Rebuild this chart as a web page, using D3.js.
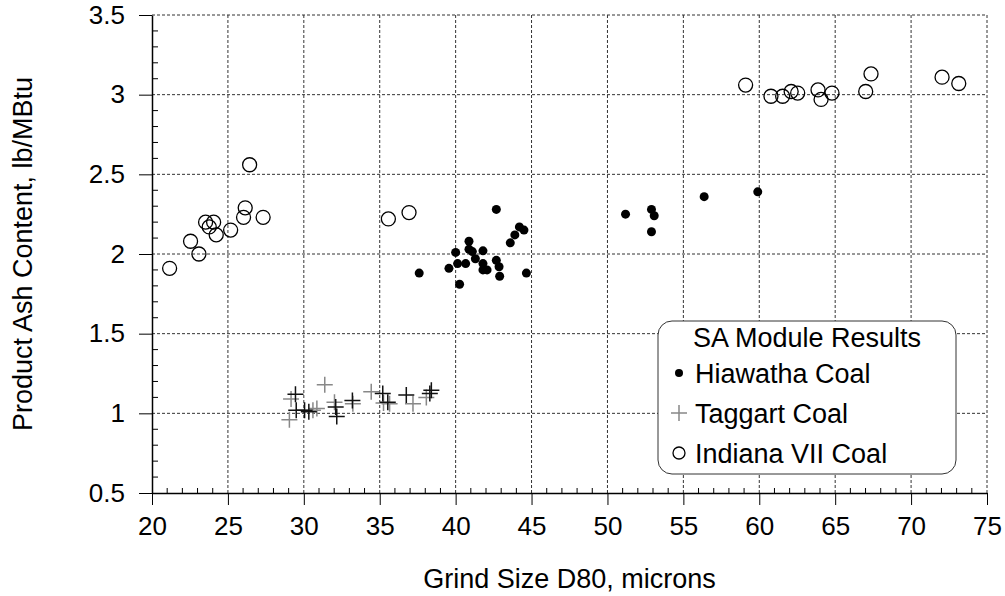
<!DOCTYPE html>
<html>
<head>
<meta charset="utf-8">
<script src="https://cdn.jsdelivr.net/npm/d3@7"></script>
<style>
  body { margin: 0; background: #fff; }
  text { font-family: "Liberation Sans", Arial, sans-serif; fill: #000; }
</style>
</head>
<body>
<div id="chart"></div>
<script>
// データ
const xTicks = [20, 25, 30, 35, 40, 45, 50, 55, 60, 65, 70, 75];
const yTicks = [0.5, 1, 1.5, 2, 2.5, 3, 3.5];

const hiawatha = [
  [37.6, 1.88], [40.26, 1.81], [39.56, 1.91], [40.0, 2.01], [40.13, 1.94],
  [40.66, 1.94], [40.88, 2.08], [40.88, 2.03], [41.1, 2.015], [41.3, 1.97],
  [41.8, 2.02], [41.8, 1.94], [41.8, 1.90], [42.07, 1.90], [42.68, 1.96],
  [42.86, 1.92], [42.9, 1.86], [42.68, 2.28], [43.6, 2.07], [43.9, 2.12],
  [44.2, 2.17], [44.5, 2.15], [44.66, 1.88], [51.19, 2.25], [52.9, 2.28],
  [53.08, 2.24], [52.9, 2.14], [56.37, 2.36], [59.9, 2.39]
];

const taggartBlack = [
  [29.45, 1.12], [29.5, 1.02], [30.05, 1.02], [30.33, 1.01], [32.1, 1.04],
  [32.17, 0.98], [33.2, 1.08], [35.2, 1.125], [35.53, 1.07], [36.75, 1.115],
  [38.3, 1.125], [38.4, 1.145]
];
const taggartGray = [
  [29.05, 0.96], [29.16, 1.09], [30.6, 1.02], [30.86, 1.03], [31.38, 1.18],
  [32.02, 1.07], [33.23, 1.06], [34.44, 1.135], [35.25, 1.065], [35.65, 1.06],
  [37.19, 1.06], [38.07, 1.10]
];

const indiana = [
  [21.16, 1.91], [22.54, 2.08], [23.09, 2.0], [23.53, 2.20], [23.77, 2.17],
  [24.06, 2.20], [24.23, 2.12], [25.18, 2.15], [26.03, 2.23], [26.14, 2.29],
  [26.43, 2.56], [27.32, 2.23], [35.57, 2.22], [36.93, 2.26],
  [59.1, 3.06], [60.77, 2.99], [61.54, 2.99], [62.1, 3.02], [62.53, 3.01],
  [63.87, 3.03], [64.07, 2.97], [64.79, 3.01], [67.01, 3.02], [67.36, 3.13],
  [72.04, 3.11], [73.14, 3.07]
];

const legendTitle = "SA Module Results";
const legendLabels = ["Hiawatha Coal", "Taggart Coal", "Indiana VII Coal"];

// サイズ設定
const width = 1005, height = 596;
const margin = {top: 15, right: 18, bottom: 103, left: 152};
const innerW = width - margin.left - margin.right;
const innerH = height - margin.top - margin.bottom;
const tickFont = 26;
const titleFont = 27;

const svg = d3.select("#chart").append("svg")
  .attr("width", width)
  .attr("height", height);

const g = svg.append("g")
  .attr("transform", `translate(${margin.left},${margin.top})`);

const x = d3.scaleLinear().domain([20, 75]).range([0, innerW]);
const y = d3.scaleLinear().domain([0.5, 3.5]).range([innerH, 0]);

// グリッド線
const grid = g.append("g").attr("class", "grid")
  .style("stroke", "#333").style("stroke-width", 1).style("stroke-dasharray", "3,2");
grid.selectAll(".gx").data(xTicks.slice(1)).enter().append("line")
  .attr("x1", d => x(d)).attr("x2", d => x(d))
  .attr("y1", 0).attr("y2", innerH);
grid.selectAll(".gy").data(yTicks.slice(1)).enter().append("line")
  .attr("x1", 0).attr("x2", innerW)
  .attr("y1", d => y(d)).attr("y2", d => y(d));

// 副目盛り（内向き）
const minorX = d3.range(21, 75, 1).filter(d => d % 5 !== 0);
const minorY = d3.range(6, 35, 1).map(d => d / 10).filter(d => Math.round(d * 10) % 5 !== 0);

g.append("g").selectAll("line").data(minorX).enter().append("line")
  .attr("x1", d => x(d)).attr("x2", d => x(d))
  .attr("y1", innerH).attr("y2", innerH - 5)
  .style("stroke", "#000").style("stroke-width", 1);
g.append("g").selectAll("line").data(minorY).enter().append("line")
  .attr("x1", 0).attr("x2", 6)
  .attr("y1", d => y(d)).attr("y2", d => y(d))
  .style("stroke", "#000").style("stroke-width", 1);

// 軸
const xAxis = g.append("g")
  .attr("transform", `translate(0,${innerH})`)
  .call(d3.axisBottom(x).tickValues(xTicks).tickSize(12).tickSizeOuter(0).tickPadding(12));
const yAxis = g.append("g")
  .call(d3.axisLeft(y).tickValues(yTicks).tickFormat(d3.format("~g")).tickSize(13).tickSizeOuter(0).tickPadding(14));

[xAxis, yAxis].forEach(a => {
  a.select(".domain").style("stroke", "#000").style("stroke-width", 1.5);
  a.selectAll(".tick line").style("stroke", "#000").style("stroke-width", 1);
  a.selectAll("text")
    .style("font-size", tickFont + "px")
    .style("font-family", "'Liberation Sans', Arial, sans-serif")
    .attr("fill", "#000");
});

// 軸タイトル
svg.append("text")
  .attr("x", margin.left + innerW / 2)
  .attr("y", 588)
  .attr("text-anchor", "middle")
  .style("font-size", titleFont + "px")
  .text("Grind Size D80, microns");

svg.append("text")
  .attr("transform", `translate(32,${margin.top + innerH / 2}) rotate(-90)`)
  .attr("text-anchor", "middle")
  .style("font-size", titleFont + "px")
  .text("Product Ash Content, lb/MBtu");

// データ点
const crossPath = (px, py, s) => `M${px - s},${py}H${px + s}M${px},${py - s}V${py + s}`;

g.append("g").selectAll("path").data(taggartGray).enter().append("path")
  .attr("d", d => crossPath(x(d[0]), y(d[1]), 8))
  .style("stroke", "#888").style("stroke-width", 1.5).style("fill", "none");
g.append("g").selectAll("path").data(taggartBlack).enter().append("path")
  .attr("d", d => crossPath(x(d[0]), y(d[1]), 8))
  .style("stroke", "#111").style("stroke-width", 1.5).style("fill", "none");

g.append("g").selectAll("circle").data(hiawatha).enter().append("circle")
  .attr("cx", d => x(d[0])).attr("cy", d => y(d[1])).attr("r", 4.5)
  .style("fill", "#000");

g.append("g").selectAll("circle").data(indiana).enter().append("circle")
  .attr("cx", d => x(d[0])).attr("cy", d => y(d[1])).attr("r", 7)
  .style("fill", "none").style("stroke", "#000").style("stroke-width", 1.3);

// 凡例
const legend = svg.append("g").attr("transform", "translate(658,321)");
legend.append("rect")
  .attr("width", 298).attr("height", 153).attr("rx", 14).attr("ry", 14)
  .style("fill", "#fff").style("stroke", "#333").style("stroke-width", 1);
legend.append("text")
  .attr("x", 149).attr("y", 26).attr("text-anchor", "middle")
  .style("font-size", titleFont + "px")
  .text(legendTitle);

const rows = legend.selectAll(".row").data(legendLabels).enter().append("g")
  .attr("transform", (d, i) => `translate(0,${52 + i * 40})`);
rows.append("text")
  .attr("x", 37).attr("y", 10)
  .style("font-size", titleFont + "px")
  .text(d => d);
rows.filter((d, i) => i === 0).append("circle")
  .attr("cx", 21).attr("cy", 0).attr("r", 4).style("fill", "#000");
rows.filter((d, i) => i === 1).append("path")
  .attr("d", crossPath(21, 0, 8))
  .style("stroke", "#888").style("stroke-width", 1.5);
rows.filter((d, i) => i === 2).append("circle")
  .attr("cx", 21).attr("cy", 0).attr("r", 6)
  .style("fill", "none").style("stroke", "#000").style("stroke-width", 1.3);
</script>
</body>
</html>
